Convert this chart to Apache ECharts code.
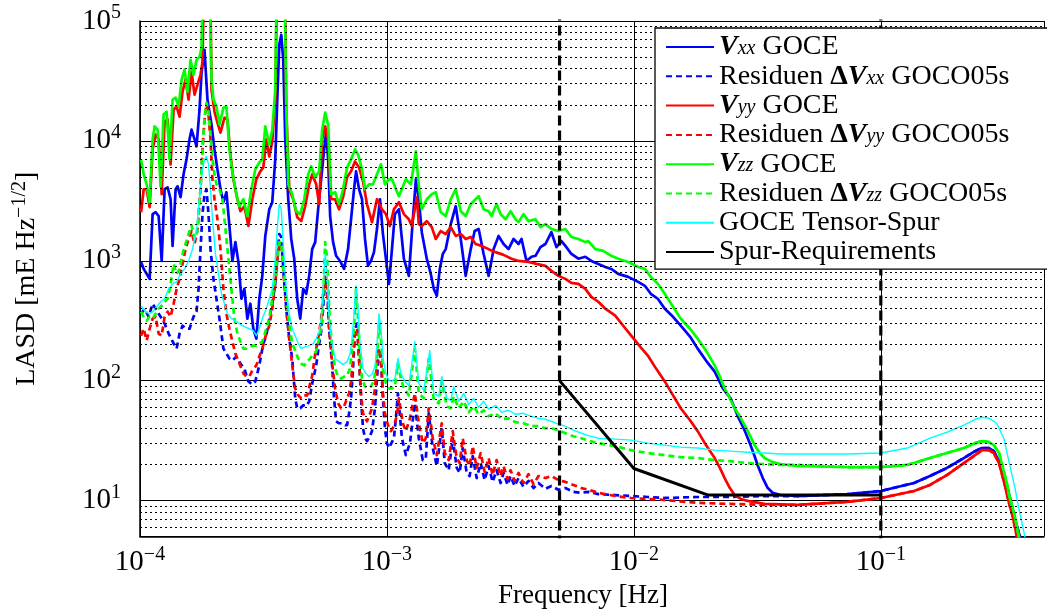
<!DOCTYPE html>
<html><head><meta charset="utf-8">
<script src="https://cdn.jsdelivr.net/npm/echarts@6/dist/echarts.min.js"></script>
<style>html,body{margin:0;padding:0;background:#fff}#c{width:1047px;height:614px}</style>
</head><body><div id="c"></div>
<script>
// ---------- data ----------
const xTicks = [1e-4, 1e-3, 1e-2, 1e-1];
const yTicks = [1e1, 1e2, 1e3, 1e4, 1e5];
const seriesNames = ['Vxx GOCE', 'Residuen ΔVxx GOCO05s', 'Vyy GOCE', 'Residuen ΔVyy GOCO05s',
  'Vzz GOCE', 'Residuen ΔVzz GOCO05s', 'GOCE Tensor-Spur', 'Spur-Requirements'];
const bandLimits = [5e-3, 1e-1];
const bandLineSpan = [1, 1e6];

const vxxGoce = [[1.01e-4,977],[1.035e-4,855],[1.064e-4,777],[1.094e-4,706],[1.125e-4,2450],[1.157e-4,2540],[1.190e-4,2360],[1.224e-4,996],[1.258e-4,3950],[1.294e-4,4100],[1.330e-4,3260],[1.355e-4,1330],[1.394e-4,3950],[1.420e-4,4180],[1.460e-4,3390],[1.501e-4,5260],[1.543e-4,7010],[1.587e-4,10300],[1.617e-4,12400],[1.663e-4,10300],[1.694e-4,8990],[1.742e-4,18200],[1.775e-4,37000],[1.825e-4,57400],[1.876e-4,22100],[1.948e-4,13700],[2.003e-4,8490],[2.059e-4,5790],[2.118e-4,3950],[2.177e-4,3080],[2.239e-4,3730],[2.302e-4,1950],[2.367e-4,996],[2.434e-4,1430],[2.503e-4,977],[2.574e-4,482],[2.646e-4,583],[2.721e-4,329],[2.798e-4,438],[2.877e-4,271],[2.959e-4,224],[3.042e-4,482],[3.128e-4,748],[3.217e-4,1610],[3.339e-4,2690],[3.433e-4,3080],[3.530e-4,7010],[3.597e-4,22100],[3.664e-4,63200],[3.733e-4,76500],[3.803e-4,47400],[3.875e-4,10300],[3.984e-4,3260],[4.097e-4,1520],[4.213e-4,1040],[4.332e-4,482],[4.456e-4,329],[4.581e-4,583],[4.711e-4,530],[4.844e-4,748],[4.981e-4,1250],[5.122e-4,1430],[5.266e-4,2690],[5.415e-4,4780],[5.569e-4,8490],[5.673e-4,11700],[5.779e-4,7010],[5.888e-4,2360],[6.053e-4,1430],[6.224e-4,1100],[6.459e-4,996],[6.705e-4,855],[6.959e-4,1250],[7.157e-4,2220],[7.359e-4,3950],[7.497e-4,5570],[7.709e-4,3950],[7.926e-4,3260],[8.150e-4,1520],[8.381e-4,906],[8.617e-4,996],[8.862e-4,1180],[9.113e-4,1840],[9.370e-4,3260],[9.634e-4,1670],[9.908e-4,1040],[1.019e-3,642],[1.048e-3,1250],[1.077e-3,2450],[1.118e-3,2690],[1.171e-3,1040],[1.227e-3,748],[1.273e-3,2220],[1.310e-3,4780],[1.346e-3,3260],[1.384e-3,1730],[1.450e-3,1040],[1.505e-3,777],[1.548e-3,583],[1.592e-3,510],[1.637e-3,855],[1.683e-3,1140],[1.730e-3,1250],[1.813e-3,2020],[1.899e-3,2850],[1.990e-3,1520],[2.084e-3,748],[2.184e-3,1250],[2.266e-3,1770],[2.352e-3,1840],[2.464e-3,1140],[2.581e-3,748],[2.704e-3,1250],[2.832e-3,1610],[2.967e-3,1380],[3.108e-3,1250],[3.257e-3,1520],[3.411e-3,1380],[3.508e-3,1520],[3.674e-3,996],[3.850e-3,1080],[3.996e-3,1100],[4.185e-3,1300],[4.385e-3,1380],[4.636e-3,1730],[4.858e-3,1300],[5.089e-3,1460],[5.281e-3,1330],[5.583e-3,1140],[5.961e-3,1040],[6.360e-3,1080],[6.723e-3,996],[7.178e-3,941],[7.659e-3,888],[8.099e-3,855],[8.643e-3,777],[9.485e-3,734],[1.041e-2,667],[1.108e-2,618],[1.171e-2,530],[1.250e-2,482],[1.334e-2,398],[1.441e-2,341],[1.548e-2,287],[1.688e-2,233],[1.813e-2,185],[1.959e-2,147],[2.124e-2,119],[2.294e-2,86.1],[2.465e-2,71.2],[2.637e-2,50.4],[2.807e-2,38.6],[2.948e-2,30.1],[3.081e-2,23.5],[3.168e-2,19.8],[3.327e-2,15.4],[3.485e-2,12.7],[3.650e-2,11.6],[3.922e-2,11.1],[4.596e-2,10.9],[7.312e-2,11.3],[0.1,12.0],[0.1363,14.0],[0.1582,16.0],[0.1852,18.7],[0.2169,22.6],[0.2409,25.8],[0.2564,27.4],[0.2744,27.4],[0.2867,25.8],[0.3040,20.5],[0.3236,13.5],[0.3368,9.55],[0.3495,6.90],[0.3651,5.09],[0.3825,3.67]];

const resXx = [[1.01e-4,361],[1.045e-4,398],[1.084e-4,341],[1.125e-4,438],[1.168e-4,383],[1.212e-4,341],[1.258e-4,299],[1.306e-4,247],[1.355e-4,212],[1.407e-4,185],[1.446e-4,247],[1.487e-4,287],[1.543e-4,271],[1.587e-4,271],[1.647e-4,341],[1.694e-4,376],[1.726e-4,583],[1.758e-4,1250],[1.791e-4,2450],[1.825e-4,3590],[1.859e-4,3950],[1.894e-4,2450],[1.930e-4,1250],[1.984e-4,706],[2.040e-4,482],[2.098e-4,329],[2.177e-4,185],[2.239e-4,168],[2.302e-4,153],[2.367e-4,147],[2.457e-4,159],[2.550e-4,139],[2.646e-4,126],[2.747e-4,98.5],[2.851e-4,93.0],[2.931e-4,98.5],[3.042e-4,134],[3.158e-4,204],[3.247e-4,237],[3.339e-4,329],[3.433e-4,438],[3.530e-4,642],[3.597e-4,1040],[3.664e-4,1670],[3.733e-4,1580],[3.803e-4,855],[3.911e-4,398],[4.022e-4,224],[4.135e-4,153],[4.252e-4,71.2],[4.332e-4,58.8],[4.456e-4,58.8],[4.581e-4,62.3],[4.711e-4,61.1],[4.844e-4,67.2],[4.981e-4,94.8],[5.170e-4,134],[5.316e-4,204],[5.415e-4,256],[5.516e-4,398],[5.620e-4,706],[5.726e-4,642],[5.833e-4,271],[5.999e-4,134],[6.109e-4,71.2],[6.224e-4,45.8],[6.400e-4,44.1],[6.581e-4,44.1],[6.767e-4,42.5],[6.895e-4,42.5],[7.024e-4,53.4],[7.157e-4,71.2],[7.290e-4,126],[7.428e-4,271],[7.568e-4,299],[7.709e-4,153],[7.853e-4,71.2],[8.000e-4,40.1],[8.150e-4,33.1],[8.304e-4,31.3],[8.460e-4,33.1],[8.699e-4,37.9],[8.945e-4,58.8],[9.113e-4,104],[9.284e-4,185],[9.459e-4,153],[9.634e-4,71.2],[9.815e-4,40.1],[1.0e-3,30.1],[1.019e-3,27.4],[1.038e-3,28.4],[1.067e-3,33.1],[1.087e-3,48.5],[1.108e-3,78.3],[1.150e-3,33.1],[1.193e-3,23.9],[1.239e-3,30.1],[1.297e-3,64.7],[1.346e-3,33.1],[1.397e-3,21.7],[1.437e-3,22.6],[1.477e-3,53.4],[1.533e-3,27.4],[1.592e-3,19.4],[1.667e-3,40.1],[1.715e-3,20.5],[1.779e-3,17.9],[1.847e-3,33.1],[1.917e-3,18.7],[1.971e-3,17.0],[2.027e-3,27.4],[2.104e-3,17.0],[2.163e-3,16.0],[2.225e-3,23.5],[2.309e-3,15.4],[2.397e-3,20.5],[2.487e-3,14.8],[2.581e-3,19.4],[2.679e-3,14.3],[2.780e-3,17.9],[2.886e-3,14.0],[2.967e-3,17.0],[3.080e-3,13.5],[3.167e-3,16.0],[3.287e-3,13.2],[3.411e-3,15.4],[3.573e-3,13.0],[3.743e-3,14.6],[3.922e-3,12.7],[4.108e-3,14.0],[4.385e-3,12.5],[4.636e-3,13.2],[4.947e-3,12.3],[5.281e-3,12.7],[5.687e-3,11.8],[6.129e-3,11.6],[6.539e-3,11.8],[7.178e-3,11.3],[8.406e-3,11.1],[9.752e-3,10.9],[1.139e-2,10.7],[1.334e-2,10.5],[1.813e-2,10.7],[2.465e-2,10.7],[3.381e-2,10.9],[4.596e-2,10.9],[7.312e-2,11.3],[0.1,12.0],[0.1363,14.0],[0.1582,16.0],[0.1852,18.7],[0.2169,22.6],[0.2409,25.8],[0.2564,27.4],[0.2744,27.4],[0.2867,25.8],[0.3040,20.5],[0.3236,13.5],[0.3368,9.55],[0.3495,6.90],[0.3651,5.09],[0.3825,3.67]];

const vyyGoce = [[1.01e-4,2540],[1.035e-4,3950],[1.064e-4,3950],[1.094e-4,2800],[1.125e-4,8490],[1.157e-4,11300],[1.190e-4,10300],[1.224e-4,3590],[1.258e-4,14500],[1.294e-4,15100],[1.330e-4,6370],[1.368e-4,18200],[1.407e-4,19300],[1.446e-4,15900],[1.487e-4,25700],[1.529e-4,32400],[1.573e-4,22100],[1.617e-4,37700],[1.663e-4,24300],[1.710e-4,29400],[1.758e-4,35600],[1.791e-4,45600],[1.81e-4,150000],[1.86e-4,300000],[1.93e-4,150000],[1.948e-4,26700],[2.003e-4,17500],[2.059e-4,14200],[2.118e-4,11700],[2.198e-4,15600],[2.260e-4,15100],[2.323e-4,7710],[2.389e-4,4780],[2.480e-4,3260],[2.550e-4,2590],[2.646e-4,2850],[2.747e-4,1950],[2.851e-4,3260],[2.959e-4,4780],[3.071e-4,5570],[3.158e-4,6010],[3.247e-4,10300],[3.339e-4,7420],[3.433e-4,9890],[3.530e-4,22100],[3.58e-4,150000],[3.733e-4,300000],[3.87e-4,150000],[3.911e-4,18200],[4.022e-4,3950],[4.174e-4,3260],[4.332e-4,2310],[4.497e-4,2140],[4.667e-4,2850],[4.844e-4,4340],[4.981e-4,5260],[5.170e-4,4340],[5.316e-4,2960],[5.466e-4,10300],[5.620e-4,13200],[5.779e-4,10300],[5.943e-4,3260],[6.168e-4,3260],[6.400e-4,2690],[6.643e-4,3390],[6.895e-4,4970],[7.157e-4,5570],[7.428e-4,6740],[7.709e-4,6010],[8.000e-4,4600],[8.304e-4,2960],[8.699e-4,2100],[9.113e-4,3260],[9.546e-4,2690],[9.908e-4,2450],[1.028e-3,1950],[1.067e-3,2690],[1.118e-3,3080],[1.171e-3,2450],[1.227e-3,2220],[1.261e-3,1950],[1.322e-3,3390],[1.346e-3,2020],[1.384e-3,1950],[1.450e-3,2140],[1.519e-3,1910],[1.577e-3,1520],[1.652e-3,1770],[1.730e-3,1670],[1.813e-3,1910],[1.899e-3,1610],[1.990e-3,1670],[2.084e-3,1520],[2.184e-3,1580],[2.287e-3,1380],[2.418e-3,1330],[2.581e-3,1250],[2.754e-3,1180],[2.967e-3,1120],[3.195e-3,1040],[3.411e-3,996],[3.743e-3,977],[4.033e-3,941],[4.385e-3,906],[4.636e-3,823],[4.947e-3,748],[5.281e-3,706],[5.583e-3,654],[5.961e-3,642],[6.360e-3,583],[6.723e-3,500],[7.178e-3,455],[7.659e-3,398],[8.406e-3,348],[9.054e-3,287],[9.752e-3,237],[1.060e-2,192],[1.139e-2,162],[1.230e-2,126],[1.334e-2,98.5],[1.441e-2,75.4],[1.548e-2,58.8],[1.688e-2,46.7],[1.813e-2,37.9],[1.959e-2,29.0],[2.124e-2,22.6],[2.230e-2,18.7],[2.331e-2,15.4],[2.448e-2,12.7],[2.558e-2,11.1],[2.712e-2,10.3],[2.886e-2,9.93],[3.381e-2,9.37],[4.596e-2,9.19],[7.312e-2,9.74],[0.1,10.5],[0.1363,12.0],[0.1582,13.5],[0.1852,16.3],[0.2169,20.5],[0.2409,23.9],[0.2564,26.3],[0.2744,26.3],[0.2867,24.9],[0.3012,20.5],[0.3178,13.5],[0.3305,9.55],[0.3430,7.22],[0.3551,5.09],[0.3695,3.67]];

const resYy = [[1.01e-4,237],[1.035e-4,271],[1.064e-4,216],[1.094e-4,271],[1.125e-4,329],[1.157e-4,341],[1.190e-4,247],[1.224e-4,237],[1.258e-4,341],[1.294e-4,376],[1.330e-4,341],[1.368e-4,438],[1.407e-4,583],[1.446e-4,706],[1.487e-4,941],[1.529e-4,1250],[1.573e-4,1520],[1.617e-4,1770],[1.663e-4,1380],[1.710e-4,1840],[1.758e-4,3950],[1.791e-4,8490],[1.825e-4,15100],[1.859e-4,20100],[1.894e-4,16600],[1.930e-4,10300],[1.966e-4,4780],[2.003e-4,3260],[2.059e-4,2220],[2.118e-4,1250],[2.177e-4,583],[2.239e-4,361],[2.302e-4,271],[2.367e-4,212],[2.434e-4,168],[2.526e-4,139],[2.622e-4,115],[2.696e-4,108],[2.772e-4,108],[2.851e-4,122],[2.959e-4,134],[3.042e-4,159],[3.128e-4,185],[3.247e-4,247],[3.339e-4,287],[3.433e-4,398],[3.530e-4,642],[3.597e-4,996],[3.664e-4,1380],[3.733e-4,1380],[3.803e-4,855],[3.911e-4,398],[4.022e-4,224],[4.135e-4,134],[4.252e-4,86.1],[4.372e-4,75.4],[4.497e-4,71.2],[4.624e-4,75.4],[4.753e-4,75.4],[4.889e-4,94.8],[4.981e-4,110],[5.122e-4,168],[5.266e-4,224],[5.415e-4,329],[5.516e-4,530],[5.620e-4,734],[5.726e-4,583],[5.833e-4,271],[5.999e-4,139],[6.168e-4,86.1],[6.341e-4,64.7],[6.520e-4,58.8],[6.705e-4,61.1],[6.831e-4,62.3],[7.024e-4,78.3],[7.157e-4,98.5],[7.290e-4,153],[7.428e-4,256],[7.568e-4,271],[7.709e-4,153],[7.853e-4,78.3],[8.000e-4,53.4],[8.150e-4,48.5],[8.304e-4,45.8],[8.460e-4,50.4],[8.699e-4,58.8],[8.945e-4,86.1],[9.113e-4,139],[9.284e-4,185],[9.459e-4,153],[9.634e-4,78.3],[9.815e-4,53.4],[1.0e-3,45.8],[1.019e-3,40.1],[1.038e-3,37.9],[1.067e-3,41.7],[1.098e-3,51.4],[1.118e-3,71.2],[1.160e-3,44.1],[1.193e-3,37.9],[1.239e-3,48.5],[1.297e-3,78.3],[1.346e-3,44.1],[1.397e-3,30.1],[1.437e-3,33.1],[1.477e-3,58.8],[1.533e-3,33.1],[1.592e-3,23.9],[1.667e-3,44.1],[1.715e-3,24.9],[1.779e-3,21.7],[1.847e-3,37.9],[1.917e-3,22.6],[1.971e-3,20.5],[2.027e-3,33.1],[2.104e-3,21.7],[2.163e-3,19.4],[2.225e-3,28.4],[2.309e-3,18.7],[2.397e-3,24.9],[2.487e-3,17.3],[2.581e-3,22.6],[2.679e-3,16.3],[2.780e-3,21.7],[2.886e-3,16.0],[2.967e-3,19.4],[3.080e-3,15.1],[3.167e-3,17.9],[3.287e-3,14.6],[3.411e-3,17.0],[3.573e-3,14.0],[3.743e-3,16.6],[3.922e-3,13.7],[4.108e-3,16.0],[4.385e-3,15.4],[4.636e-3,16.0],[4.947e-3,14.8],[5.281e-3,14.3],[5.687e-3,13.5],[6.129e-3,12.7],[6.539e-3,12.3],[7.178e-3,11.6],[8.406e-3,10.9],[9.752e-3,10.5],[1.139e-2,10.3],[1.334e-2,10.1],[1.813e-2,9.55],[2.465e-2,9.37],[3.381e-2,9.19],[4.596e-2,9.19],[7.312e-2,9.74],[0.1,10.5],[0.1363,12.0],[0.1582,13.5],[0.1852,16.3],[0.2169,20.5],[0.2409,23.9],[0.2564,26.3],[0.2744,26.3],[0.2867,24.9],[0.3012,20.5],[0.3178,13.5],[0.3305,9.55],[0.3430,7.22],[0.3551,5.09],[0.3695,3.67]];

const vzzGoce = [[1.01e-4,7010],[1.035e-4,5260],[1.064e-4,4340],[1.094e-4,3080],[1.125e-4,10300],[1.146e-4,13200],[1.179e-4,12400],[1.212e-4,4180],[1.246e-4,16600],[1.282e-4,17500],[1.318e-4,7010],[1.355e-4,22100],[1.394e-4,22900],[1.433e-4,19300],[1.474e-4,32400],[1.515e-4,39200],[1.558e-4,25700],[1.602e-4,47400],[1.647e-4,35600],[1.694e-4,47400],[1.742e-4,50200],[1.775e-4,59700],[1.79e-4,150000],[1.84e-4,300000],[1.92e-4,150000],[1.948e-4,32400],[1.984e-4,22100],[2.040e-4,19300],[2.098e-4,13700],[2.177e-4,18900],[2.239e-4,19300],[2.302e-4,8490],[2.367e-4,5470],[2.457e-4,3590],[2.526e-4,2850],[2.622e-4,3260],[2.721e-4,2360],[2.824e-4,3950],[2.931e-4,5790],[3.042e-4,6620],[3.128e-4,7010],[3.217e-4,13200],[3.339e-4,9340],[3.433e-4,12400],[3.530e-4,26700],[3.57e-4,150000],[3.698e-4,300000],[3.86e-4,150000],[3.911e-4,20800],[3.984e-4,4340],[4.135e-4,3590],[4.293e-4,2590],[4.456e-4,2450],[4.624e-4,3260],[4.799e-4,5260],[4.935e-4,6130],[5.122e-4,4970],[5.316e-4,5570],[5.466e-4,12400],[5.620e-4,17200],[5.779e-4,13700],[5.943e-4,3590],[6.168e-4,3730],[6.400e-4,2960],[6.643e-4,3950],[6.895e-4,6010],[7.157e-4,7010],[7.428e-4,8490],[7.638e-4,7710],[7.926e-4,5790],[8.150e-4,3950],[8.460e-4,4340],[8.782e-4,4340],[9.113e-4,5260],[9.459e-4,6370],[9.815e-4,4340],[1.019e-3,4780],[1.048e-3,4780],[1.118e-3,3450],[1.193e-3,4780],[1.250e-3,4340],[1.310e-3,8170],[1.346e-3,4180],[1.384e-3,2690],[1.450e-3,3260],[1.519e-3,3590],[1.577e-3,3730],[1.652e-3,2540],[1.730e-3,2360],[1.813e-3,3260],[1.899e-3,3950],[1.990e-3,2590],[2.084e-3,2360],[2.184e-3,2960],[2.287e-3,3260],[2.352e-3,3450],[2.464e-3,2690],[2.581e-3,2590],[2.654e-3,2360],[2.780e-3,2960],[2.886e-3,2450],[3.022e-3,2220],[3.167e-3,2590],[3.317e-3,2220],[3.411e-3,2100],[3.573e-3,2450],[3.743e-3,2140],[3.996e-3,2220],[4.185e-3,1910],[4.385e-3,2020],[4.636e-3,1840],[4.947e-3,1770],[5.281e-3,1840],[5.583e-3,1580],[5.961e-3,1520],[6.360e-3,1430],[6.539e-3,1460],[6.981e-3,1250],[7.516e-3,1210],[8.099e-3,1100],[8.643e-3,1040],[9.485e-3,977],[1.041e-2,888],[1.108e-2,855],[1.171e-2,734],[1.250e-2,642],[1.334e-2,530],[1.441e-2,413],[1.548e-2,329],[1.688e-2,271],[1.813e-2,224],[1.959e-2,178],[2.124e-2,134],[2.230e-2,108],[2.331e-2,86.1],[2.448e-2,71.2],[2.558e-2,58.8],[2.686e-2,50.4],[2.807e-2,42.5],[2.948e-2,35.1],[3.081e-2,29.0],[3.235e-2,24.9],[3.381e-2,22.6],[3.650e-2,20.9],[3.922e-2,20.1],[4.596e-2,19.4],[7.312e-2,19.0],[0.0994,19.0],[0.1281,19.8],[0.1582,22.6],[0.1852,24.9],[0.2169,27.4],[0.2409,30.1],[0.2564,31.3],[0.2744,30.7],[0.2867,29.0],[0.3012,24.9],[0.3146,17.6],[0.3236,14.0],[0.3327,10.5],[0.3463,7.89],[0.3617,5.09],[0.3765,3.67]];

const resZz = [[1.01e-4,376],[1.035e-4,341],[1.064e-4,316],[1.094e-4,341],[1.125e-4,329],[1.157e-4,361],[1.190e-4,398],[1.224e-4,421],[1.258e-4,455],[1.294e-4,482],[1.330e-4,642],[1.368e-4,941],[1.407e-4,777],[1.446e-4,855],[1.487e-4,1140],[1.529e-4,1380],[1.573e-4,1670],[1.617e-4,1980],[1.663e-4,1520],[1.710e-4,1770],[1.758e-4,3950],[1.791e-4,8490],[1.825e-4,15600],[1.859e-4,20800],[1.894e-4,17500],[1.930e-4,11300],[1.966e-4,7010],[2.003e-4,5260],[2.040e-4,4340],[2.098e-4,3950],[2.158e-4,3260],[2.218e-4,1840],[2.281e-4,1040],[2.345e-4,583],[2.411e-4,329],[2.480e-4,247],[2.550e-4,212],[2.622e-4,185],[2.696e-4,185],[2.772e-4,192],[2.877e-4,196],[2.959e-4,196],[3.042e-4,204],[3.128e-4,212],[3.247e-4,271],[3.339e-4,329],[3.433e-4,482],[3.530e-4,706],[3.597e-4,1040],[3.664e-4,1430],[3.733e-4,1430],[3.803e-4,888],[3.911e-4,482],[4.022e-4,299],[4.135e-4,204],[4.252e-4,178],[4.372e-4,153],[4.497e-4,139],[4.624e-4,134],[4.753e-4,144],[4.889e-4,153],[5.027e-4,168],[5.170e-4,175],[5.316e-4,224],[5.415e-4,271],[5.516e-4,482],[5.620e-4,1430],[5.726e-4,1040],[5.833e-4,398],[5.999e-4,185],[6.168e-4,126],[6.341e-4,108],[6.520e-4,104],[6.705e-4,108],[6.895e-4,110],[7.089e-4,126],[7.222e-4,185],[7.359e-4,271],[7.497e-4,583],[7.638e-4,329],[7.781e-4,153],[7.926e-4,104],[8.150e-4,89.5],[8.381e-4,86.1],[8.617e-4,89.5],[8.862e-4,100],[9.113e-4,153],[9.284e-4,299],[9.459e-4,224],[9.634e-4,126],[9.908e-4,94.8],[1.019e-3,86.1],[1.048e-3,86.1],[1.077e-3,89.5],[1.108e-3,139],[1.139e-3,104],[1.171e-3,86.1],[1.227e-3,75.4],[1.297e-3,185],[1.346e-3,78.3],[1.411e-3,71.2],[1.477e-3,153],[1.548e-3,68.5],[1.622e-3,64.7],[1.667e-3,98.5],[1.747e-3,61.1],[1.813e-3,58.8],[1.864e-3,73.9],[1.953e-3,58.8],[2.046e-3,67.2],[2.143e-3,54.4],[2.245e-3,61.1],[2.352e-3,52.4],[2.464e-3,56.6],[2.581e-3,50.4],[2.754e-3,53.4],[2.912e-3,47.6],[3.108e-3,48.5],[3.317e-3,45.0],[3.573e-3,44.1],[3.850e-3,41.7],[4.108e-3,41.7],[4.385e-3,40.1],[4.636e-3,40.1],[4.947e-3,38.6],[5.281e-3,36.4],[5.687e-3,34.4],[6.129e-3,33.1],[6.661e-3,31.3],[7.178e-3,30.1],[8.406e-3,28.4],[9.752e-3,26.3],[1.139e-2,24.9],[1.334e-2,23.9],[1.548e-2,23.0],[1.813e-2,22.6],[2.124e-2,21.7],[2.465e-2,21.3],[2.886e-2,20.5],[3.381e-2,20.1],[3.922e-2,19.8],[4.596e-2,19.8],[7.312e-2,19.0],[0.0994,19.0],[0.1281,19.8],[0.1582,22.6],[0.1852,24.9],[0.2169,27.4],[0.2409,30.1],[0.2564,31.3],[0.2744,30.7],[0.2867,29.0],[0.3012,24.9],[0.3146,17.6],[0.3236,14.0],[0.3327,10.5],[0.3463,7.89],[0.3617,5.09],[0.3765,3.67]];

const tensorSpur = [[1.01e-4,421],[1.045e-4,383],[1.084e-4,361],[1.125e-4,376],[1.168e-4,413],[1.212e-4,455],[1.258e-4,482],[1.306e-4,583],[1.355e-4,642],[1.407e-4,667],[1.460e-4,777],[1.515e-4,855],[1.573e-4,996],[1.632e-4,1250],[1.694e-4,1840],[1.742e-4,3260],[1.791e-4,5790],[1.825e-4,7010],[1.859e-4,7420],[1.894e-4,6370],[1.930e-4,3950],[1.966e-4,2220],[2.021e-4,1140],[2.078e-4,777],[2.137e-4,530],[2.198e-4,438],[2.260e-4,361],[2.345e-4,329],[2.434e-4,316],[2.526e-4,299],[2.646e-4,282],[2.772e-4,271],[2.877e-4,261],[2.959e-4,237],[3.042e-4,271],[3.128e-4,329],[3.247e-4,398],[3.339e-4,482],[3.433e-4,583],[3.530e-4,1040],[3.597e-4,1840],[3.664e-4,2960],[3.733e-4,2690],[3.803e-4,1380],[3.911e-4,583],[4.022e-4,361],[4.135e-4,271],[4.252e-4,237],[4.372e-4,204],[4.497e-4,185],[4.667e-4,192],[4.844e-4,196],[5.027e-4,204],[5.170e-4,224],[5.316e-4,256],[5.415e-4,329],[5.516e-4,583],[5.620e-4,1140],[5.726e-4,777],[5.833e-4,329],[5.999e-4,204],[6.168e-4,153],[6.400e-4,144],[6.643e-4,136],[6.895e-4,144],[7.089e-4,168],[7.222e-4,224],[7.359e-4,361],[7.497e-4,618],[7.638e-4,398],[7.781e-4,204],[8.000e-4,126],[8.227e-4,115],[8.460e-4,108],[8.699e-4,113],[8.945e-4,131],[9.113e-4,204],[9.284e-4,361],[9.459e-4,271],[9.634e-4,153],[9.908e-4,115],[1.019e-3,100],[1.048e-3,98.5],[1.077e-3,104],[1.108e-3,153],[1.139e-3,115],[1.182e-3,98.5],[1.227e-3,91.2],[1.297e-3,212],[1.346e-3,94.8],[1.411e-3,82.9],[1.491e-3,178],[1.548e-3,78.3],[1.622e-3,73.9],[1.667e-3,108],[1.747e-3,71.2],[1.813e-3,68.5],[1.864e-3,89.5],[1.953e-3,67.2],[2.046e-3,78.3],[2.143e-3,63.4],[2.245e-3,71.2],[2.352e-3,59.9],[2.464e-3,67.2],[2.581e-3,57.7],[2.754e-3,62.3],[2.912e-3,54.4],[3.108e-3,56.6],[3.317e-3,52.4],[3.573e-3,53.4],[3.850e-3,50.4],[4.108e-3,48.5],[4.385e-3,47.6],[4.636e-3,45.8],[4.947e-3,43.3],[5.281e-3,41.7],[5.687e-3,38.6],[6.129e-3,36.4],[6.661e-3,34.4],[7.178e-3,33.1],[8.406e-3,32.5],[9.752e-3,31.9],[1.139e-2,30.1],[1.334e-2,29.0],[1.548e-2,27.9],[1.813e-2,27.4],[2.124e-2,26.3],[2.465e-2,25.8],[2.886e-2,25.3],[3.381e-2,24.9],[3.922e-2,24.4],[4.596e-2,24.4],[7.312e-2,24.4],[0.1,24.9],[0.1281,27.4],[0.1582,33.1],[0.1852,37.1],[0.2169,42.5],[0.2409,47.6],[0.2564,49.5],[0.2744,48.5],[0.2948,44.1],[0.3146,33.1],[0.3327,19.8],[0.3495,12.7],[0.3617,8.70],[0.3825,5.09],[0.3944,3.67]];

const spurReq = [[5e-3,100],[1e-2,18.5],[2e-2,11.1],[1e-1,11.1]];

// ---------- chart ----------
const FONT = "'Liberation Serif', 'DejaVu Serif', serif";
const chart = echarts.init(document.getElementById('c'), null, {renderer: 'canvas'});

function isTick(v, ticks) {
  return ticks.some(t => Math.abs(Math.log10(v) - Math.log10(t)) < 1e-6);
}
function powLabel(v, ticks) {
  if (!isTick(v, ticks)) return '';
  const e = Math.round(Math.log10(v));
  return '{b|10}{s|' + (e < 0 ? '\u2212' + (-e) : String(e)) + '}';
}
const powRich = {
  b: {fontFamily: FONT, fontSize: 29, lineHeight: 36, color: '#000'},
  s: {fontFamily: FONT, fontSize: 20, lineHeight: 14, verticalAlign: 'top', color: '#000'}
};

// minor (dotted) horizontal grid values, 2..9 in every decade
const minorY = [];
[1, 10, 100, 1000, 10000].forEach(d => {
  for (let m = 2; m <= 9; m++) { const v = m * d; if (v > 5 && v < 1e5) minorY.push(v); }
});

const legendText = {
  'Vxx GOCE': '{v|V}{sub|xx}{n| GOCE}',
  'Residuen ΔVxx GOCO05s': '{n|Residuen }{d|Δ}{v|V}{sub|xx}{n| GOCO05s}',
  'Vyy GOCE': '{v|V}{sub|yy}{n| GOCE}',
  'Residuen ΔVyy GOCO05s': '{n|Residuen }{d|Δ}{v|V}{sub|yy}{n| GOCO05s}',
  'Vzz GOCE': '{v|V}{sub|zz}{n| GOCE}',
  'Residuen ΔVzz GOCO05s': '{n|Residuen }{d|Δ}{v|V}{sub|zz}{n| GOCO05s}',
  'GOCE Tensor-Spur': '{n|GOCE Tensor-Spur}',
  'Spur-Requirements': '{n|Spur-Requirements}'
};

function line(name, data, color, width, dashed, z) {
  return {
    name, type: 'line', data, symbol: 'none', showSymbol: false, clip: true, z,
    lineStyle: {color, width, type: dashed ? [6, 4] : 'solid', cap: 'butt', join: 'round'},
    itemStyle: {color}, emphasis: {disabled: true}, silent: true
  };
}

const series = [
  {
    name: 'minorGrid', type: 'line', data: [], symbol: 'none', z: 1, silent: true,
    markLine: {
      silent: true, symbol: ['none', 'none'], label: {show: false}, animation: false,
      lineStyle: {color: '#000', width: 1, type: [2, 3]},
      data: minorY.map(v => ({yAxis: v}))
    }
  },
  line(seriesNames[0], vxxGoce, '#0000ff', 2.7, false, 2),
  line(seriesNames[1], resXx, '#0000ff', 2.7, true, 2),
  line(seriesNames[2], vyyGoce, '#ff0000', 2.7, false, 2),
  line(seriesNames[3], resYy, '#ff0000', 2.7, true, 2),
  line(seriesNames[4], vzzGoce, '#00ff00', 2.7, false, 2),
  line(seriesNames[5], resZz, '#00ff00', 2.7, true, 2),
  line(seriesNames[6], tensorSpur, '#00ffff', 1.4, false, 2),
  line(seriesNames[7], spurReq, '#000000', 3, false, 3)
];
// vertical dashed band limits, drawn as data lines through the axes
bandLimits.forEach((f, i) => {
  series.push({
    name: 'band' + i, type: 'line', data: bandLineSpan.map(v => [f, v]), symbol: 'none', clip: true, z: 3,
    silent: true, lineStyle: {color: '#000', width: 3.2, type: [10, 5]}, emphasis: {disabled: true}
  });
});

chart.setOption({
  animation: false,
  backgroundColor: '#fff',
  textStyle: {fontFamily: FONT},
  grid: {left: 140, right: 0, top: 21, bottom: 76, containLabel: false},
  xAxis: {
    type: 'log', logBase: 10, min: 1e-4, max: 0.458,
    name: 'Frequency [Hz]', nameLocation: 'middle', nameGap: 42,
    nameTextStyle: {fontFamily: FONT, fontSize: 27, color: '#000', padding: [0, 18, 0, 0]},
    axisLine: {show: true, lineStyle: {color: '#000', width: 1.5}},
    axisTick: {show: false},
    axisLabel: {margin: 8, formatter: v => powLabel(v, xTicks), rich: powRich, showMinLabel: true, showMaxLabel: true},
    splitLine: {show: true, lineStyle: {color: '#000', width: 1}},
    minorTick: {show: false}, minorSplitLine: {show: false}
  },
  yAxis: {
    type: 'log', logBase: 10, min: 5, max: 1e5,
    name: '{t|LASD [mE Hz}{s|\u22121/2}{t|]}', nameLocation: 'middle', nameGap: 96,
    nameTextStyle: {
      rich: {
        t: {fontFamily: FONT, fontSize: 28, lineHeight: 34, color: '#000'},
        s: {fontFamily: FONT, fontSize: 20, lineHeight: 14, verticalAlign: 'top', color: '#000'}
      }
    },
    axisLine: {show: true, lineStyle: {color: '#000', width: 1.5}},
    axisTick: {show: false},
    axisLabel: {margin: 19, formatter: v => powLabel(v, yTicks), rich: powRich, showMinLabel: true, showMaxLabel: true},
    splitLine: {show: true, lineStyle: {color: '#000', width: 1}},
    minorTick: {show: false}, minorSplitLine: {show: false}
  },
  legend: {
    data: seriesNames, orient: 'vertical', left: 655, top: 28, z: 20,
    itemWidth: 48, itemHeight: 14, itemGap: 1.3,
    padding: [5, 90, 3, 10],
    borderColor: '#000', borderWidth: 1.3, backgroundColor: '#fff',
    selectedMode: false,
    itemStyle: {opacity: 0, borderWidth: 0},
    formatter: name => legendText[name] || name,
    textStyle: {
      fontFamily: FONT, fontSize: 28, color: '#000',
      rich: {
        n: {fontFamily: FONT, fontSize: 28, lineHeight: 24, color: '#000'},
        v: {fontFamily: FONT, fontSize: 28, lineHeight: 24, fontWeight: 'bold', fontStyle: 'italic', color: '#000'},
        d: {fontFamily: FONT, fontSize: 28, lineHeight: 24, fontWeight: 'bold', color: '#000'},
        sub: {fontFamily: FONT, fontSize: 20, lineHeight: 12, fontStyle: 'italic', verticalAlign: 'bottom', color: '#000'}
      }
    }
  },
  series
});
</script>
</body></html>
